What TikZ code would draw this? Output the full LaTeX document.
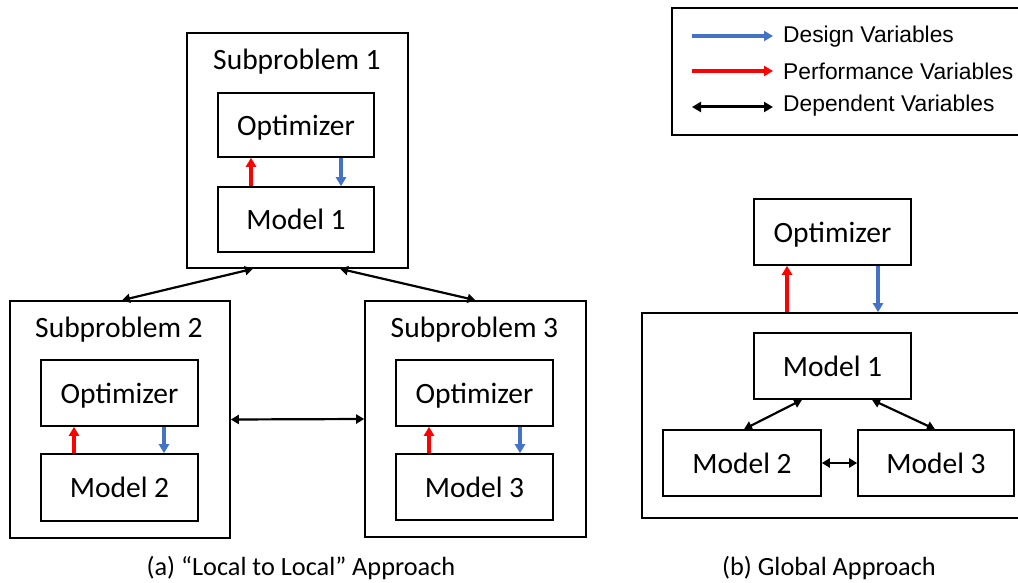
\documentclass[tikz,border=0pt]{standalone}
\usepackage{fontspec}
\setmainfont{Carlito}
\newfontfamily\legendfont{Liberation Sans}
\usetikzlibrary{arrows.meta}
\definecolor{dvblue}{HTML}{4472C4}
\definecolor{pvred}{HTML}{FF0000}
\tikzset{
  outerbox/.style={draw, line width=1.6pt, rectangle, inner sep=0pt},
  innerbox/.style={draw, line width=1.6pt, rectangle, inner sep=0pt, text depth=0pt,
    font=\fontsize{29.5}{31}\selectfont},
  sublabel/.style={font=\fontsize{29.5}{31}\selectfont, inner sep=0pt, text depth=0pt},
  caption/.style={font=\fontsize{26.3}{28}\selectfont, inner sep=0pt, text depth=0pt},
  legtext/.style={font=\legendfont\fontsize{22.8}{24}\selectfont, anchor=west, inner sep=0pt},
  designvar/.style={dvblue, line width=3.2pt, -{Triangle[length=9pt,width=10pt]}},
  perfvar/.style={pvred, line width=3.2pt, -{Triangle[length=9pt,width=10pt]}},
  depvar/.style={black, line width=2.2pt, {Triangle[length=8pt,width=9pt]}-{Triangle[length=8pt,width=9pt]}},
  legdep/.style={black, line width=3pt, {Triangle[length=9pt,width=10pt]}-{Triangle[length=9pt,width=10pt]}},
}
\begin{document}
\begin{tikzpicture}[x=1pt,y=-1pt]
\useasboundingbox (0,0) rectangle (1018,583);
\clip (0,0) rectangle (1018,583);

% ---------- (a) local to local ----------
\node[outerbox, minimum width=221pt, minimum height=235pt] (sub1) at (297.5,150.5) {};
\node[sublabel] (sub1lab) at (297,59) {Subproblem 1};
\node[innerbox, minimum width=156pt, minimum height=64pt] (opt1) at (296,125) {Optimizer};
\node[innerbox, minimum width=156pt, minimum height=65pt] (mod1) at (296,219.5) {Model 1};

\node[outerbox, minimum width=220pt, minimum height=237pt] (sub2) at (120,419.5) {};
\node[sublabel] (sub2lab) at (119,327) {Subproblem 2};
\node[innerbox, minimum width=157pt, minimum height=66pt] (opt2) at (119.5,393) {Optimizer};
\node[innerbox, minimum width=157pt, minimum height=67pt] (mod2) at (119.5,487.5) {Model 2};

\node[outerbox, minimum width=221pt, minimum height=236pt] (sub3) at (475.5,419) {};
\node[sublabel] (sub3lab) at (474.5,327) {Subproblem 3};
\node[innerbox, minimum width=157pt, minimum height=66pt] (opt3) at (474.5,393) {Optimizer};
\node[innerbox, minimum width=157pt, minimum height=66pt] (mod3) at (474.5,487) {Model 3};

% variables exchanged inside each subproblem
\draw[perfvar] (mod1.north -| 251,0) -- (opt1.south -| 251,0);
\draw[designvar] (opt1.south -| 341,0) -- (mod1.north -| 341,0);
\draw[perfvar] (mod2.north -| 74,0) -- (opt2.south -| 74,0);
\draw[designvar] (opt2.south -| 164,0) -- (mod2.north -| 164,0);
\draw[perfvar] (mod3.north -| 429,0) -- (opt3.south -| 429,0);
\draw[designvar] (opt3.south -| 520,0) -- (mod3.north -| 520,0);

% couplings between subproblems
\draw[depvar] ([xshift=-44.5pt]sub1.south) -- ([xshift=2pt]sub2.north);
\draw[depvar] ([xshift=42.5pt]sub1.south) -- (sub3.north);
\draw[depvar] (sub2.east) -- (sub3.west);

\node[caption] (capa) at (301,566) {(a) “Local to Local” Approach};

% ---------- (b) global ----------
\node[innerbox, minimum width=157pt, minimum height=66pt] (gopt) at (832.5,232) {Optimizer};
\node[outerbox, minimum width=388pt, minimum height=205pt] (gsys) at (836,415.5) {};
\node[innerbox, minimum width=157pt, minimum height=66pt] (gm1) at (832.5,366) {Model 1};
\node[innerbox, minimum width=158pt, minimum height=66pt] (gm2) at (742,463) {Model 2};
\node[innerbox, minimum width=156pt, minimum height=66pt] (gm3) at (936,463) {Model 3};

\draw[perfvar] (gsys.north -| 787,0) -- (gopt.south -| 787,0);
\draw[designvar] (gopt.south -| 878,0) -- (gsys.north -| 878,0);
\draw[depvar] ([xshift=-30.5pt]gm1.south) -- ([xshift=2pt]gm2.north);
\draw[depvar] ([xshift=39.5pt]gm1.south) -- ([xshift=-1pt]gm3.north);
\draw[depvar] (gm2.east) -- (gm3.west);

\node[caption] (capb) at (829,566) {(b) Global Approach};

% ---------- legend ----------
\node[outerbox, minimum width=356pt, minimum height=127pt] (legend) at (850,71.5) {};
\coordinate (l1a) at (692,36);  \coordinate (l1b) at (773,36);
\coordinate (l2a) at (692,71);  \coordinate (l2b) at (773,71);
\coordinate (l3a) at (692,107); \coordinate (l3b) at (773,107);
\draw[designvar] (l1a) -- (l1b);
\draw[perfvar] (l2a) -- (l2b);
\draw[legdep] (l3a) -- (l3b);
\node[legtext] (t1) at (783,37) {Design Variables};
\node[legtext] (t2) at (783,71) {Performance Variables};
\node[legtext] (t3) at (783,106) {Dependent Variables};
\end{tikzpicture}
\end{document}
